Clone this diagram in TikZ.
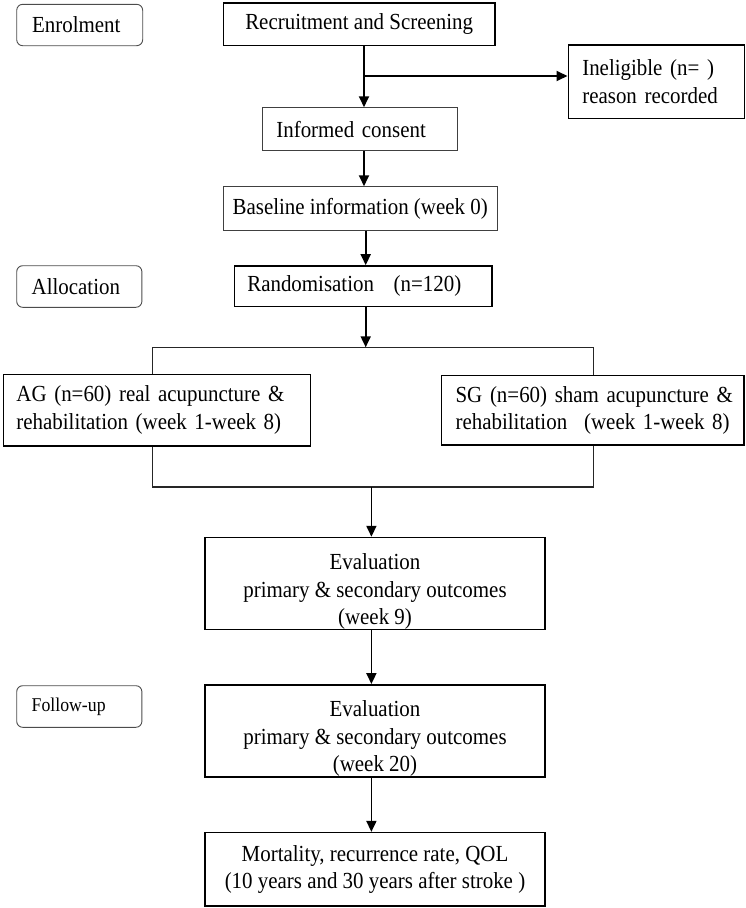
\documentclass[tikz,border=0pt]{standalone}
\usepackage{fontspec}
\setmainfont{Liberation Serif}[FakeStretch=0.91]
\usetikzlibrary{arrows.meta}
\newcommand{\highstrut}{\rule{0pt}{32pt}}
\begin{document}
\begin{tikzpicture}[x=1pt,y=-1pt,
  box/.style={draw=black, line width=1.6pt, inner sep=0pt, align=center,
    font=\fontsize{23}{27.5}\selectfont},
  thinbox/.style={box, line width=0.9pt, draw=black!75},
  stage/.style={box, rounded corners=6pt, line width=0.9pt, draw=black!70,
    inner xsep=15pt, text width=95.2pt, align=left},
  arr/.style={-{Triangle[length=11pt,width=10pt]}, line width=1.8pt},
  conn/.style={line width=1.1pt, draw=black!85}]
\useasboundingbox (0,0) rectangle (746,908);

% stage labels
\node[stage, minimum width=126pt, minimum height=41.4pt] (enrol) at (79.7,25) {Enrolment};
\node[stage, minimum width=125.2pt, minimum height=41.6pt] (alloc) at (79.3,286.5) {Allocation};
\node[stage, minimum width=125.2pt, minimum height=41.6pt, font=\fontsize{19.5}{22}\selectfont] (follow) at (79.3,706.5) {Follow-up};

% main boxes
\node[box, minimum width=271.7pt, minimum height=42.6pt] (recruit) at (359.2,24) {Recruitment and Screening};
\node[box, minimum width=176pt, minimum height=73.3pt, inner xsep=14pt, text width=148pt, align=left] (inelig) at (656.3,81.7) {Ineligible (n= )\\reason recorded};
\node[thinbox, minimum width=194.7pt, minimum height=43pt, inner xsep=14pt, text width=166.7pt, align=left] (consent) at (359.7,129.2) {Informed consent};
\node[thinbox, minimum width=273.7pt, minimum height=43.6pt] (baseline) at (360.2,208.5) {Baseline information (week 0)};
\node[box, minimum width=257.6pt, minimum height=40.7pt, inner xsep=13pt, text width=231.6pt, align=left] (rand) at (363.1,286.3) {Randomisation\hspace{19.6pt}(n=120)};
\node[box, minimum width=307.2pt, minimum height=71.4pt, inner xsep=13.1pt, text width=281pt, align=left] (ag) at (156.9,410) {\makebox[281pt][s]{AG (n=60) real acupuncture \&}\\rehabilitation (week 1-week 8)};
\node[box, minimum width=302.4pt, minimum height=69.3pt, inner xsep=14.2pt, text width=274pt, align=left] (sg) at (592.6,410.3) {\makebox[274pt][s]{SG (n=60) sham acupuncture \&}\\\makebox[274pt]{rehabilitation\hfill(week 1-week 8)}};
\node[box, minimum width=340.4pt, minimum height=91.6pt] (eval1) at (375,583.5) {\highstrut Evaluation\\primary \& secondary outcomes\\(week 9)};
\node[box, minimum width=340.4pt, minimum height=91.7pt] (eval2) at (375,730.8) {\highstrut Evaluation\\primary \& secondary outcomes\\(week 20)};
\node[box, minimum width=340.4pt, minimum height=73.3pt] (mort) at (375,869.3) {Mortality, recurrence rate, QOL\\(10 years and 30 years after stroke )};

% helper coordinates
\coordinate (xa) at (364,0);
\coordinate (xb) at (365.7,0);
\coordinate (xc) at (371.4,0);
\coordinate (xl) at (152.5,0);
\coordinate (xr) at (593.8,0);
\coordinate (j1) at (364,76);
\coordinate (bl) at (152.5,347.3);
\coordinate (br) at (593.8,347.3);
\coordinate (ml) at (152.5,487);
\coordinate (mr) at (593.8,487);
\coordinate (mc) at (371.4,487);

% connectors
\draw[arr] (recruit.south -| xa) -- (consent.north -| xa);
\draw[arr] (j1) -- (j1 -| inelig.west);
\draw[arr] (consent.south -| xa) -- (baseline.north -| xa);
\draw[arr] (baseline.south -| xb) -- (rand.north -| xb);
\draw[arr] (rand.south -| xb) -- (bl -| xb);
\draw[conn] (ag.north -| xl) -- (bl) -- (br) -- (sg.north -| xr);
\draw[conn] (ag.south -| xl) -- (ml) -- (mr) -- (sg.south -| xr);
\draw[arr] (mc) -- (eval1.north -| xc);
\draw[arr] (eval1.south -| xc) -- (eval2.north -| xc);
\draw[arr] (eval2.south -| xc) -- (mort.north -| xc);
\end{tikzpicture}
\end{document}
